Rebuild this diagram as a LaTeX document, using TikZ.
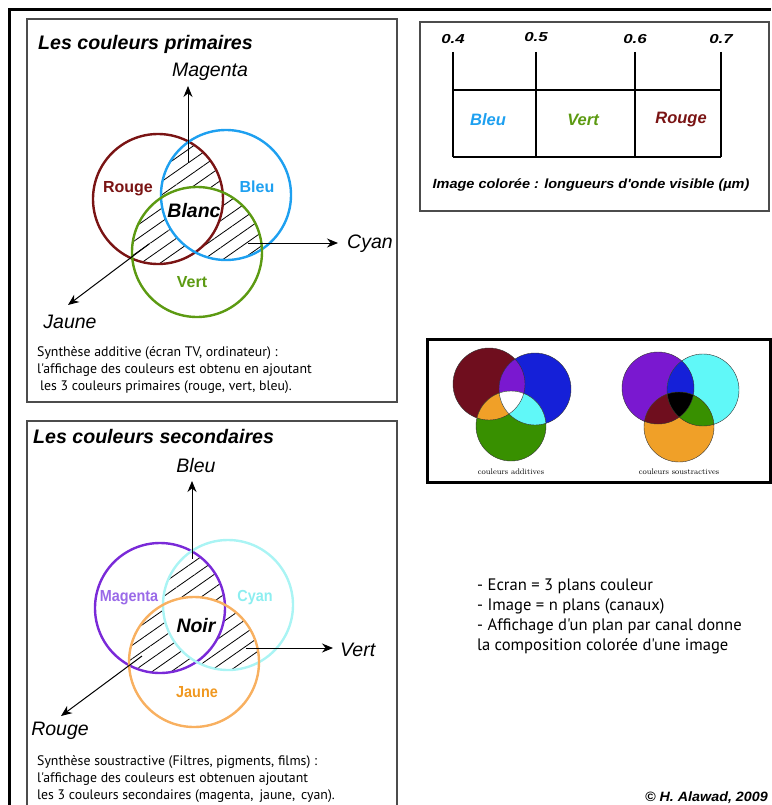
\documentclass[tikz,border=0pt]{standalone}
\usepackage{fontspec}
\newfontfamily\arialf{Liberation Sans}
\newfontfamily\myriad{PT Sans}
\usetikzlibrary{arrows.meta,patterns.meta,positioning}

\definecolor{cRouge}{HTML}{7A1414}
\definecolor{cBleu}{HTML}{1EA0F0}
\definecolor{cVert}{HTML}{5C9A12}
\definecolor{cMag}{HTML}{7A2AD8}
\definecolor{cMagTxt}{HTML}{9A6AE8}
\definecolor{cCyan}{HTML}{AAF4F4}
\definecolor{cCyanTxt}{HTML}{8CEEF0}
\definecolor{cJaune}{HTML}{F8B060}
\definecolor{cJauneTxt}{HTML}{F09820}
\definecolor{fRed}{HTML}{6F0E1E}
\definecolor{fBlue}{HTML}{1520D8}
\definecolor{fGreen}{HTML}{389000}
\definecolor{fPurple}{HTML}{7A18D0}
\definecolor{fOrange}{HTML}{F0A028}
\definecolor{fCyan}{HTML}{60F8F8}

\tikzset{
  frame/.style={line width=3pt},
  panel/.style={draw=black!70,line width=1.2pt},
  ring/.style={line width=2.4pt},
  hatch/.style={pattern={Lines[angle=35,distance=11pt,line width=0.8pt]}},
  arr/.style={line width=1pt,-{Stealth[length=11pt,width=9pt]}},
  bar/.style={line width=2.4pt},
  ttl/.style={font=\arialf\bfseries\itshape\fontsize{19.6}{22}\selectfont,anchor=base west,inner sep=0pt},
  axis/.style={font=\arialf\itshape\fontsize{19.5}{22}\selectfont,anchor=base,inner sep=0pt},
  tag/.style={font=\arialf\bfseries\fontsize{16}{18}\selectfont,anchor=base,inner sep=0pt},
  mid/.style={font=\arialf\bfseries\itshape\fontsize{19.5}{22}\selectfont,anchor=base,inner sep=0pt},
  spec/.style={font=\arialf\bfseries\itshape\fontsize{16.5}{18}\selectfont,anchor=base,inner sep=0pt},
  tick/.style={font=\arialf\bfseries\itshape\fontsize{13}{15}\selectfont,anchor=base,inner sep=0pt,xscale=1.3},
  body/.style={font=\myriad\fontsize{13.8}{17}\selectfont,anchor=north west,align=left,inner sep=0pt},
  tiny/.style={font=\fontsize{8}{9}\selectfont,anchor=base,inner sep=0pt},
}

\begin{document}
\begin{tikzpicture}[x=1pt,y=-1pt]
\useasboundingbox (0,0) rectangle (771,805);

% FRAMES
\draw[frame] (9,805) -- (9,10) -- (771,10);
\draw[panel] (27,19) rectangle (397,402);
\draw[panel] (27,805) -- (27,421) -- (397,421) -- (397,805);
\draw[panel] (420,22) rectangle (769,211);
\draw[frame] (427,339) rectangle (770,482);

% PRIMARY COLOURS
\node[ttl] (ttlprim) at (38,50) {Les couleurs primaires};
\coordinate (rouge) at (158,199);
\coordinate (bleu) at (226,195);
\coordinate (vert) at (197,252);

\foreach \a/\b/\c in {rouge/bleu/vert, rouge/vert/bleu, bleu/vert/rouge}{
  \begin{scope}
    \clip (\a) circle (65); \clip (\b) circle (65);
    \path[hatch,even odd rule] (0,0) rectangle (400,400) (\c) circle (65);
  \end{scope}
}
\draw[ring,cRouge] (rouge) circle (65);
\draw[ring,cBleu] (bleu) circle (65);
\draw[ring,cVert] (vert) circle (65);

\node[tag,cRouge] (trouge) at (128,193) {Rouge};
\node[tag,cBleu] (tbleu) at (257,193) {Bleu};
\node[tag,cVert] (tvert) at (192,287) {Vert};
\node[mid] (blanc) at (194,217) {Blanc};

\node[axis] (magenta) at (210,77) {Magenta};
\node[axis,anchor=base west] (cyan) at (347,248) {Cyan};
\node[axis] (jaune) at (70,328) {Jaune};
\coordinate (m0) at (188,163);  \coordinate (m1) at (188,86);
\coordinate (c0) at (248,243);  \coordinate (c1) at (338,243);
\coordinate (j0) at (149,244);  \coordinate (j1) at (68,305);
\draw[arr] (m0) -- (m1);
\draw[arr] (c0) -- (c1);
\draw[arr] (j0) -- (j1);

\node[body] (txtprim) at (37,346) {Synth\`ese additive (\'ecran TV, ordinateur) :\\
l'affichage des couleurs est obtenu en ajoutant\\
\hspace{3pt}les 3 couleurs primaires (rouge, vert, bleu).};

% SECONDARY COLOURS
\node[ttl] (ttlsec) at (33,443) {Les couleurs secondaires};
\coordinate (mag) at (160,608);
\coordinate (cya) at (228,605);
\coordinate (jau) at (194,662);

\foreach \a/\b/\c in {mag/cya/jau, mag/jau/cya, cya/jau/mag}{
  \begin{scope}
    \clip (\a) circle (65); \clip (\b) circle (65);
    \path[hatch,even odd rule] (0,420) rectangle (400,805) (\c) circle (65);
  \end{scope}
}
\draw[ring,cMag] (mag) circle (65);
\draw[ring,cCyan] (cya) circle (65);
\draw[ring,cJaune] (jau) circle (65);

\node[tag,cMagTxt,xscale=0.9] (tmag) at (129,601) {Magenta};
\node[tag,cCyanTxt,xscale=0.9] (tcya) at (255,601) {Cyan};
\node[tag,cJauneTxt,xscale=0.9] (tjau) at (197,697) {Jaune};
\node[mid] (noir) at (196,632) {Noir};

\node[axis] (sbleu) at (196,472) {Bleu};
\node[axis,anchor=base west] (svert) at (340,656) {Vert};
\node[axis] (srouge) at (60,735) {Rouge};
\coordinate (b0) at (192,559);  \coordinate (b1) at (192,481);
\coordinate (v0) at (246,648);  \coordinate (v1) at (333,648);
\coordinate (r0) at (142,656);  \coordinate (r1) at (61,716);
\draw[arr] (b0) -- (b1);
\draw[arr] (v0) -- (v1);
\draw[arr] (r0) -- (r1);

\node[body] (txtsec) at (37,755) {Synth\`ese soustractive (Filtres, pigments, films) :\\
l'affichage des couleurs est obtenuen ajoutant\\
les 3 couleurs secondaires (magenta,\, jaune,\, cyan).};

% SPECTRUM
\foreach \x/\v/\y in {453/0.4/44, 536/0.5/42, 635/0.6/44, 721/0.7/44}{
  \draw[bar] (\x,52) -- (\x,157);
  \node[tick] (w\x) at (\x,\y) {\v};
}
\draw[bar] (453,90) -- (721,90);
\draw[bar] (453,157) -- (721,157);
\node[spec,cBleu] (sbl) at (488,126) {Bleu};
\node[spec,cVert] (svt) at (583,126) {Vert};
\node[spec,cRouge] (srg) at (681,124) {Rouge};
\node[spec,font=\arialf\bfseries\itshape\fontsize{13.3}{15}\selectfont,xscale=1.09] (caption) at (591,189)
  {Image color\'ee : longueurs d'onde visible (\textmu m)};

% FILLED DISCS
\coordinate (aR) at (489,384); \coordinate (aB) at (535,389); \coordinate (aG) at (511,426);
\fill[fRed] (aR) circle (36);
\fill[fBlue] (aB) circle (36);
\fill[fGreen] (aG) circle (35);
\begin{scope} \clip (aR) circle (36); \fill[fPurple] (aB) circle (36); \end{scope}
\begin{scope} \clip (aR) circle (36); \fill[fOrange] (aG) circle (35); \end{scope}
\begin{scope} \clip (aB) circle (36); \fill[fCyan] (aG) circle (35); \end{scope}
\begin{scope} \clip (aR) circle (36); \clip (aB) circle (36); \fill[white] (aG) circle (35); \end{scope}
\draw[thin,black!80] (aR) circle (36) (aB) circle (36) (aG) circle (35);
\node[tiny] (ladd) at (511,474) {couleurs additives};

\coordinate (sM) at (658,388); \coordinate (sC) at (703,390); \coordinate (sY) at (679,427);
\fill[fPurple] (sM) circle (36);
\fill[fCyan] (sC) circle (36);
\fill[fOrange] (sY) circle (35);
\begin{scope} \clip (sM) circle (36); \fill[fBlue] (sC) circle (36); \end{scope}
\begin{scope} \clip (sM) circle (36); \fill[fRed] (sY) circle (35); \end{scope}
\begin{scope} \clip (sC) circle (36); \fill[fGreen] (sY) circle (35); \end{scope}
\begin{scope} \clip (sM) circle (36); \clip (sC) circle (36); \fill[black] (sY) circle (35); \end{scope}
\draw[thin,black!80] (sM) circle (36) (sC) circle (36) (sY) circle (35);
\node[tiny] (lsub) at (679,474) {couleurs soustractives};

% NOTES
\node[body,font=\myriad\fontsize{16.6}{20}\selectfont] (notes) at (477,579) {- Ecran = 3 plans couleur\\
- Image = n plans (canaux)\\
- Affichage d'un plan par canal donne\\
la composition color\'ee d'une image};
\node[font=\arialf\bfseries\itshape\fontsize{13.5}{15}\selectfont,xscale=1.06,anchor=base east,inner sep=0pt] (copy) at (768,801) {\textcopyright\ H. Alawad, 2009};

\end{tikzpicture}
\end{document}
